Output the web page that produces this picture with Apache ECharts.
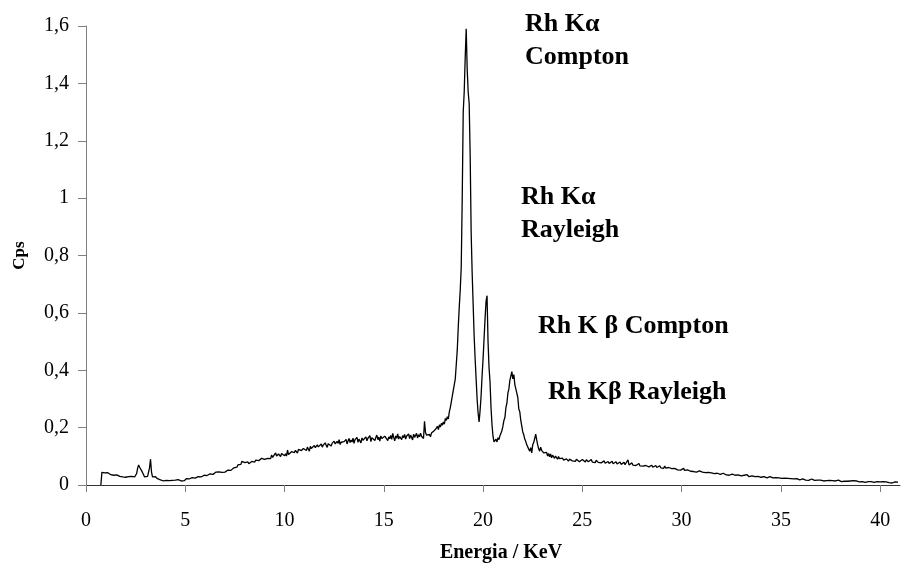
<!DOCTYPE html>
<html>
<head>
<meta charset="utf-8">
<script src="https://cdn.jsdelivr.net/npm/echarts@6/dist/echarts.min.js"></script>
<style>
  html, body { margin: 0; padding: 0; background: #fff; }
  #chart { width: 911px; height: 563px; }
</style>
</head>
<body>
<div id="chart"></div>
<script>
// spectrum: channel calibration (keV) and counts per second per channel
const channelStart = 0.75;
const channelWidth = 0.05;
const cps = [
  0, 0.044, 0.040, 0.046, 0.042,
  0.045, 0.039, 0.043, 0.047, 0.040, 0.036, 0.041, 0.038, 0.034, 0.037, 0.031, 0.035, 0.029, 0.033, 0.030, 0.027, 0.032, 0.028, 0.025, 0.030,
  0.027, 0.031, 0.024, 0.029, 0.026, 0.023, 0.030, 0.027, 0.025, 0.028, 0.026, 0.040, 0.058, 0.070, 0.062, 0.066, 0.050, 0.044, 0.036, 0.028,
  0.024, 0.022, 0.030, 0.026, 0.060, 0.090, 0.045, 0.028, 0.032, 0.026, 0.029, 0.024, 0.022, 0.025, 0.020, 0.018, 0.021, 0.016, 0.014, 0.017,
  0.013, 0.016, 0.014, 0.011, 0.015, 0.018, 0.013, 0.016, 0.019, 0.015, 0.017, 0.014, 0.016, 0.019, 0.015, 0.017, 0.014, 0.018, 0.016, 0.015,
  0.019, 0.022, 0.018, 0.024, 0.021, 0.025, 0.022, 0.026, 0.023, 0.027, 0.024, 0.028, 0.025, 0.029, 0.027, 0.031, 0.028, 0.033, 0.030, 0.034,
  0.031, 0.035, 0.033, 0.038, 0.034, 0.039, 0.036, 0.041, 0.037, 0.043, 0.039, 0.045, 0.041, 0.040, 0.046, 0.042, 0.048, 0.044, 0.041, 0.047,
  0.045, 0.050, 0.046, 0.052, 0.048, 0.055, 0.051, 0.057, 0.054, 0.060, 0.058, 0.066, 0.062, 0.070, 0.068, 0.075, 0.072, 0.082, 0.086, 0.080,
  0.078, 0.083, 0.076, 0.081, 0.074, 0.079, 0.076, 0.082, 0.078, 0.085, 0.080, 0.087, 0.083, 0.089, 0.085, 0.091, 0.086, 0.093, 0.088, 0.092,
  0.089, 0.095, 0.087, 0.093, 0.090, 0.097, 0.092, 0.105, 0.096, 0.100, 0.094, 0.112, 0.101, 0.098, 0.108, 0.103, 0.099, 0.110, 0.104, 0.107,
  0.102, 0.109, 0.101, 0.122, 0.106, 0.112, 0.108, 0.116, 0.110, 0.119, 0.113, 0.121, 0.115, 0.111, 0.124, 0.118, 0.126, 0.120, 0.114, 0.127,
  0.123, 0.129, 0.120, 0.132, 0.125, 0.118, 0.135, 0.127, 0.131, 0.124, 0.138, 0.130, 0.126, 0.140, 0.133, 0.128, 0.137, 0.143, 0.132, 0.139,
  0.135, 0.147, 0.138, 0.131, 0.144, 0.140, 0.150, 0.136, 0.146, 0.141, 0.153, 0.143, 0.137, 0.152, 0.145, 0.158, 0.141, 0.149, 0.155, 0.144,
  0.151, 0.146, 0.159, 0.143, 0.154, 0.162, 0.148, 0.157, 0.150, 0.163, 0.145, 0.158, 0.153, 0.166, 0.149, 0.160, 0.155, 0.147, 0.164, 0.156,
  0.161, 0.150, 0.168, 0.154, 0.163, 0.157, 0.172, 0.151, 0.165, 0.159, 0.170, 0.155, 0.166, 0.174, 0.158, 0.167, 0.153, 0.171, 0.162, 0.168,
  0.157, 0.170, 0.164, 0.176, 0.155, 0.168, 0.161, 0.173, 0.159, 0.180, 0.166, 0.154, 0.171, 0.163, 0.178, 0.160, 0.169, 0.175, 0.158, 0.172,
  0.165, 0.176, 0.160, 0.171, 0.167, 0.178, 0.162, 0.174, 0.169, 0.157, 0.177, 0.166, 0.172, 0.180, 0.164, 0.175, 0.168, 0.181, 0.170, 0.176,
  0.162, 0.222, 0.183, 0.174, 0.179, 0.171, 0.176, 0.168, 0.181, 0.175, 0.186, 0.190, 0.184, 0.198, 0.205, 0.193, 0.210, 0.202, 0.215, 0.208,
  0.220, 0.212, 0.232, 0.225, 0.238, 0.230, 0.255, 0.270, 0.290, 0.310, 0.33, 0.35, 0.37, 0.42, 0.47, 0.55, 0.62, 0.68, 0.76, 1.00,
  1.30, 1.37, 1.49, 1.59, 1.45, 1.37, 1.33, 1.15, 0.88, 0.74, 0.63, 0.52, 0.44, 0.37, 0.30, 0.25, 0.22, 0.26, 0.31, 0.38,
  0.44, 0.51, 0.58, 0.64, 0.66, 0.50, 0.41, 0.36, 0.27, 0.21, 0.17, 0.15, 0.145, 0.16, 0.15, 0.165, 0.158, 0.172, 0.18, 0.19,
  0.205, 0.225, 0.235, 0.27, 0.285, 0.32, 0.335, 0.365, 0.38, 0.395, 0.37, 0.385, 0.35, 0.345, 0.32, 0.305, 0.265, 0.255, 0.225, 0.205,
  0.185, 0.175, 0.16, 0.152, 0.14, 0.135, 0.125, 0.118, 0.13, 0.112, 0.14, 0.148, 0.162, 0.177, 0.158, 0.14, 0.126, 0.118, 0.132, 0.121,
  0.125, 0.112, 0.118, 0.106, 0.114, 0.101, 0.110, 0.098, 0.108, 0.095, 0.104, 0.099, 0.093, 0.101, 0.096, 0.090, 0.099, 0.092, 0.097, 0.089,
  0.094, 0.087, 0.092, 0.085, 0.091, 0.088, 0.083, 0.090, 0.086, 0.093, 0.084, 0.089, 0.086, 0.082, 0.090, 0.085, 0.088, 0.081, 0.087, 0.084,
  0.089, 0.083, 0.086, 0.080, 0.088, 0.084, 0.081, 0.087, 0.082, 0.089, 0.080, 0.085, 0.083, 0.078, 0.086, 0.082, 0.079, 0.085, 0.081, 0.077,
  0.083, 0.079, 0.084, 0.076, 0.081, 0.078, 0.082, 0.075, 0.080, 0.077, 0.083, 0.074, 0.079, 0.076, 0.081, 0.073, 0.078, 0.075, 0.080, 0.072,
  0.077, 0.074, 0.079, 0.071, 0.076, 0.073, 0.088, 0.070, 0.075, 0.072, 0.077, 0.069, 0.074, 0.071, 0.068, 0.073, 0.070, 0.075, 0.067, 0.072,
  0.069, 0.066, 0.071, 0.064, 0.068, 0.065, 0.070, 0.063, 0.067, 0.064, 0.069, 0.062, 0.066, 0.063, 0.068, 0.061, 0.065, 0.062, 0.067, 0.060,
  0.064, 0.061, 0.058, 0.066, 0.059, 0.063, 0.057, 0.061, 0.055, 0.060, 0.057, 0.062, 0.054, 0.058, 0.056, 0.060, 0.053, 0.057, 0.055, 0.052,
  0.056, 0.053, 0.058, 0.051, 0.055, 0.049, 0.053, 0.050, 0.054, 0.048, 0.052, 0.049, 0.047, 0.051, 0.048, 0.045, 0.050, 0.046, 0.049, 0.044,
  0.048, 0.045, 0.042, 0.047, 0.043, 0.046, 0.041, 0.044, 0.040, 0.045, 0.042, 0.039, 0.043, 0.040, 0.044, 0.038, 0.041, 0.039, 0.042, 0.037,
  0.040, 0.037, 0.041, 0.036, 0.039, 0.035, 0.038, 0.040, 0.034, 0.037, 0.035, 0.038, 0.033, 0.036, 0.034, 0.037, 0.032, 0.035, 0.033, 0.036,
  0.032, 0.035, 0.031, 0.034, 0.030, 0.033, 0.036, 0.031, 0.029, 0.033, 0.030, 0.032, 0.028, 0.031, 0.029, 0.032, 0.027, 0.030, 0.028, 0.031,
  0.027, 0.030, 0.026, 0.029, 0.031, 0.027, 0.025, 0.028, 0.026, 0.029, 0.024, 0.027, 0.025, 0.028, 0.024, 0.026, 0.023, 0.027, 0.025, 0.022,
  0.026, 0.023, 0.025, 0.022, 0.024, 0.021, 0.025, 0.023, 0.020, 0.024, 0.022, 0.019, 0.023, 0.021, 0.024, 0.020, 0.022, 0.019, 0.021, 0.018,
  0.022, 0.019, 0.021, 0.018, 0.020, 0.017, 0.021, 0.019, 0.016, 0.020, 0.018, 0.021, 0.017, 0.019, 0.016, 0.018, 0.020, 0.017, 0.015, 0.019,
  0.017, 0.015, 0.018, 0.014, 0.016, 0.019, 0.015, 0.017, 0.013, 0.016, 0.014, 0.017, 0.015, 0.013, 0.016, 0.014, 0.012, 0.015, 0.017, 0.013,
  0.015, 0.012, 0.014, 0.016, 0.013, 0.011, 0.015, 0.013, 0.016, 0.012, 0.014, 0.011, 0.013, 0.015, 0.012, 0.010, 0.014, 0.012, 0.013, 0.011,
  0.013, 0.010, 0.012, 0.014, 0.011, 0.009, 0.013, 0.011, 0.012, 0.010, 0.008, 0.012, 0.010, 0.013, 0.009, 0.011, 0.008, 0.012, 0.010, 0.009,
  0.011, 0.008, 0.010, 0.012, 0.009, 0.007, 0.011, 0.009, 0.010, 0.008, 0.012, 0.009, 0.007, 0.010, 0.008, 0.011, 0.009, 0.013, 0.010
];

const xTicks = [0, 5, 10, 15, 20, 25, 30, 35, 40];
const yTicks = [0, 0.2, 0.4, 0.6, 0.8, 1, 1.2, 1.4, 1.6];

// peak labels: text lines and where they sit (left edge, line middle)
const peakLabels = [
  { text: 'Rh K\u03b1', x: 525, y: 24 },
  { text: 'Compton', x: 525, y: 57 },
  { text: 'Rh K\u03b1', x: 521, y: 197 },
  { text: 'Rayleigh', x: 521, y: 230 },
  { text: 'Rh K \u03b2 Compton', x: 538, y: 326 },
  { text: 'Rh K\u03b2 Rayleigh', x: 548, y: 392 }
];

var points = cps.map(function (v, i) {
  return [+(channelStart + i * channelWidth).toFixed(2), v];
});

var serif = '"Liberation Serif", "Times New Roman", serif';

var chart = echarts.init(document.getElementById('chart'));

var option = {
  animation: false,
  backgroundColor: '#fff',
  grid: { left: 86, right: 11, top: 26, bottom: 78, outerBoundsMode: 'none', containLabel: false },
  xAxis: {
    type: 'value',
    min: 0,
    max: 41,
    interval: 5,
    name: 'Energia / KeV',
    nameLocation: 'middle',
    nameGap: 58,
    nameTextStyle: { fontFamily: serif, fontWeight: 'bold', fontSize: 20, color: '#000', padding: [0, 0, 0, 16] },
    axisLine: { onZero: false, lineStyle: { color: '#333', width: 1 } },
    axisTick: { show: true, length: 7, customValues: xTicks, lineStyle: { color: '#808080' } },
    axisLabel: { customValues: xTicks, margin: 26, fontFamily: serif, fontSize: 20, color: '#000' },
    splitLine: { show: false }
  },
  yAxis: {
    type: 'value',
    min: 0,
    max: 1.6,
    interval: 0.2,
    name: 'Cps',
    nameLocation: 'middle',
    nameGap: 58,
    nameRotate: 90,
    nameTextStyle: { fontFamily: serif, fontWeight: 'bold', fontSize: 17, color: '#000' },
    axisLine: { show: true, lineStyle: { color: '#808080', width: 1 } },
    axisTick: { show: true, length: 8, customValues: yTicks, lineStyle: { color: '#808080' } },
    axisLabel: {
      customValues: yTicks,
      margin: 17,
      fontFamily: serif,
      fontSize: 20,
      color: '#000',
      formatter: function (v) { return String(+v.toFixed(1)).replace('.', ','); }
    },
    splitLine: { show: false }
  },
  graphic: peakLabels.map(function (l) {
    return {
      type: 'text',
      x: l.x,
      y: l.y,
      style: {
        text: l.text,
        font: 'bold 26px ' + serif,
        fill: '#000',
        verticalAlign: 'middle'
      }
    };
  }),
  series: [
    {
      type: 'line',
      data: points,
      showSymbol: false,
      symbol: 'none',
      lineStyle: { color: '#000', width: 1.3 },
      silent: true
    }
  ]
};

chart.setOption(option);
</script>
</body>
</html>
